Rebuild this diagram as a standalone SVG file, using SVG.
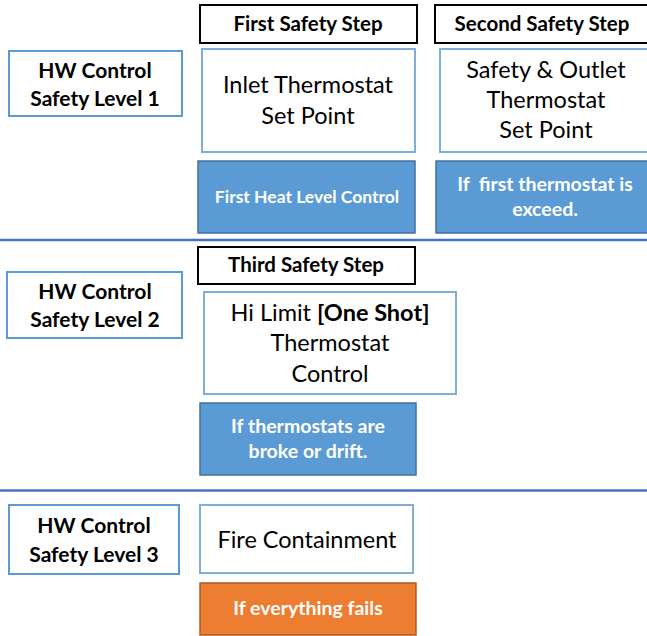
<svg xmlns="http://www.w3.org/2000/svg" width="647" height="636" viewBox="0 0 647 636">
  <style>
    text { font-family: "Lato", "Open Sans", "Liberation Sans", sans-serif; text-anchor: middle; white-space: pre; }
    .level rect { fill: #fff; stroke: #5B9BD5; stroke-width: 2; }
    .level text { font-size: 21px; font-weight: bold; fill: #000; }
    .step rect { fill: #fff; stroke: #000; stroke-width: 2; }
    .step text { font-size: 20.5px; font-weight: bold; fill: #000; }
    .ctrl rect { fill: #fff; stroke: #7FAEDD; stroke-width: 2; }
    .ctrl text { font-size: 23.5px; fill: #000; }
    .note rect { fill: #5B9BD5; stroke: #41719C; stroke-width: 1.5; }
    .note text { font-size: 19.5px; font-weight: bold; fill: #fff; }
    .alarm rect { fill: #ED7D31; stroke: #AE5A21; stroke-width: 1.5; }
    .alarm text { font-size: 19.5px; font-weight: bold; fill: #fff; }
    .divider { stroke: #4472C4; stroke-width: 2.5; }
  </style>

  <!-- level dividers -->
  <g id="dividers">
    <line class="divider" x1="0" y1="240" x2="647" y2="240"/>
    <line class="divider" x1="0" y1="490.5" x2="647" y2="490.5"/>
  </g>

  <!-- Level 1 -->
  <g id="level1" class="level">
    <rect x="9" y="51" width="173" height="65"/>
    <text x="95" y="78">HW Control</text>
    <text x="95" y="106">Safety Level 1</text>
  </g>
  <g id="step1" class="step">
    <rect x="200" y="5" width="217" height="38"/>
    <text x="308" y="31">First Safety Step</text>
  </g>
  <g id="inlet" class="ctrl">
    <rect x="202" y="49" width="213" height="103"/>
    <text x="308" y="93">Inlet Thermostat</text>
    <text x="308" y="124">Set Point</text>
  </g>
  <g id="heatLevel" class="note">
    <rect x="198" y="161" width="217" height="72"/>
    <text x="307" y="203" style="font-size:17.5px">First Heat Level Control</text>
  </g>
  <g id="step2" class="step">
    <rect x="435" y="5" width="216" height="38"/>
    <text x="542" y="31">Second Safety Step</text>
  </g>
  <g id="outlet" class="ctrl">
    <rect x="440" y="49" width="211" height="103"/>
    <text x="546" y="78">Safety &amp; Outlet</text>
    <text x="546" y="108">Thermostat</text>
    <text x="546" y="138">Set Point</text>
  </g>
  <g id="exceed" class="note">
    <rect x="436" y="161" width="215" height="72"/>
    <text x="545" y="191">If  first thermostat is</text>
    <text x="545" y="216">exceed.</text>
  </g>

  <!-- Level 2 -->
  <g id="level2" class="level">
    <rect x="7" y="272" width="175" height="66"/>
    <text x="95" y="299">HW Control</text>
    <text x="95" y="327">Safety Level 2</text>
  </g>
  <g id="step3" class="step">
    <rect x="198" y="247" width="217" height="37"/>
    <text x="306" y="272">Third Safety Step</text>
  </g>
  <g id="hiLimit" class="ctrl">
    <rect x="204" y="292" width="252" height="102"/>
    <text x="330" y="321">Hi Limit <tspan font-weight="bold">[One Shot]</tspan></text>
    <text x="330" y="351">Thermostat</text>
    <text x="330" y="382">Control</text>
  </g>
  <g id="drift" class="note">
    <rect x="200" y="403" width="216" height="72"/>
    <text x="308" y="433">If thermostats are</text>
    <text x="308" y="458">broke or drift.</text>
  </g>

  <!-- Level 3 -->
  <g id="level3" class="level">
    <rect x="9" y="505" width="170" height="69"/>
    <text x="94" y="533">HW Control</text>
    <text x="94" y="562">Safety Level 3</text>
  </g>
  <g id="fire" class="ctrl">
    <rect x="200" y="505" width="213" height="68"/>
    <text x="307" y="548">Fire Containment</text>
  </g>
  <g id="fails" class="alarm">
    <rect x="200" y="583" width="216" height="52"/>
    <text x="308" y="615">If everything fails</text>
  </g>
</svg>
